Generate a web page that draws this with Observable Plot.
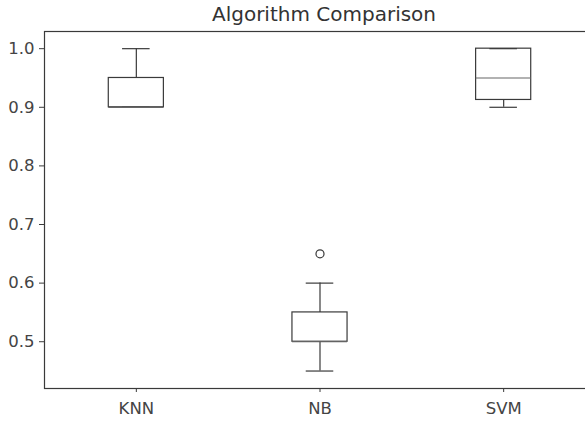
<!DOCTYPE html>
<html>
<head>
<meta charset="utf-8">
<script src="https://cdn.jsdelivr.net/npm/d3@7"></script>
<script src="https://cdn.jsdelivr.net/npm/@observablehq/plot@0.6"></script>
<style>
  html, body { margin: 0; padding: 0; background: #fff; }
  #chart svg { display: block; }
</style>
</head>
<body>
<div id="chart"></div>
<script>
const title = "Algorithm Comparison";
const algorithms = ["KNN", "NB", "SVM"];
const positions = [1, 2, 3];
const whiskerLow = [0.90, 0.45, 0.90];
const q1 = [0.90, 0.50, 0.9125];
const median = [0.90, 0.50, 0.95];
const q3 = [0.95, 0.55, 1.00];
const whiskerHigh = [1.00, 0.60, 1.00];
const outlierAlg = ["NB"];
const outlierValue = [0.65];
const yTicks = [0.5, 0.6, 0.7, 0.8, 0.9, 1.0];

const boxWidth = 0.3;
const capWidth = 0.15;

const rows = algorithms.map((a, i) => ({
  alg: a, pos: positions[i],
  lo: whiskerLow[i], q1: q1[i], med: median[i], q3: q3[i], hi: whiskerHigh[i]
}));
const outliers = outlierAlg.map((a, i) => ({
  pos: positions[algorithms.indexOf(a)], value: outlierValue[i]
}));

const ink = "#3a3a3a";

const chart = Plot.plot({
  width: 585,
  height: 423,
  marginLeft: 44,
  marginRight: -10,
  marginTop: 31,
  marginBottom: 35,
  style: { fontFamily: "DejaVu Sans", fontSize: "16.5px", color: "#444", background: "#fff" },
  x: { type: "linear", domain: [0.5, 3.5], ticks: positions,
       tickFormat: d => algorithms[positions.indexOf(d)] },
  y: { domain: [0.4202, 1.0293], ticks: yTicks, tickFormat: d3.format(".1f") },
  marks: [
    Plot.axisX({ ticks: positions, tickFormat: d => algorithms[positions.indexOf(d)],
                 tickSize: 4, tickPadding: 10, label: null, stroke: ink, fontSize: 16.5 }),
    Plot.axisY({ ticks: yTicks, tickFormat: d3.format(".1f"),
                 tickSize: 5, tickPadding: 5, label: null, stroke: ink, fontSize: 16.5 }),
    Plot.frame({ stroke: ink, strokeWidth: 1.2 }),
    // whiskers
    Plot.ruleX(rows, { x: "pos", y1: "q3", y2: "hi", stroke: ink, strokeWidth: 1.2 }),
    Plot.ruleX(rows, { x: "pos", y1: "lo", y2: "q1", stroke: ink, strokeWidth: 1.2 }),
    // caps
    Plot.ruleY(rows, { y: "hi", x1: d => d.pos - capWidth / 2, x2: d => d.pos + capWidth / 2, stroke: ink, strokeWidth: 1.2 }),
    Plot.ruleY(rows, { y: "lo", x1: d => d.pos - capWidth / 2, x2: d => d.pos + capWidth / 2, stroke: ink, strokeWidth: 1.2 }),
    // boxes
    Plot.rect(rows, { x1: d => d.pos - boxWidth / 2, x2: d => d.pos + boxWidth / 2,
                      y1: "q1", y2: "q3", fill: "none", stroke: ink, strokeWidth: 1.2 }),
    // medians
    Plot.ruleY(rows, { y: "med", x1: d => d.pos - boxWidth / 2, x2: d => d.pos + boxWidth / 2,
                       stroke: "#666", strokeWidth: 1.2 }),
    // outliers
    Plot.dot(outliers, { x: "pos", y: "value", r: 4, fill: "none", stroke: ink, strokeWidth: 1.2 }),
    // title
    Plot.text([title], { x: 2, frameAnchor: "top", dy: -17, dx: 4, text: d => d,
                         fontSize: 20, fill: "#333", lineAnchor: "middle" })
  ]
});
document.getElementById("chart").appendChild(chart);
</script>
</body>
</html>
